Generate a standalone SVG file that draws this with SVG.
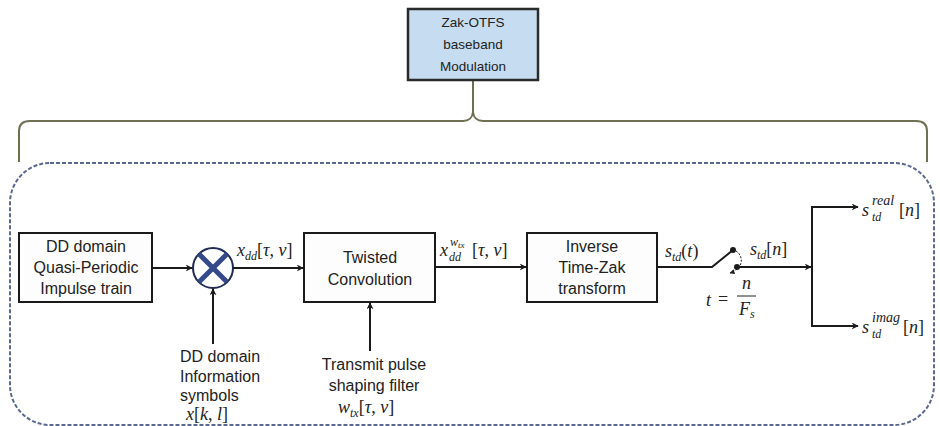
<svg xmlns="http://www.w3.org/2000/svg" width="940" height="426" viewBox="0 0 940 426">
<style>
.box{fill:#fdfdfd;stroke:#1a1a1a;stroke-width:2}
.lbl{font-family:"Liberation Sans",Arial,sans-serif;font-size:16px;fill:#222;text-anchor:middle}
.lbll{font-family:"Liberation Sans",Arial,sans-serif;font-size:16px;fill:#222}
.top{font-family:"Liberation Sans",Arial,sans-serif;font-size:13.5px;fill:#222;text-anchor:middle}
.m{font-family:"Liberation Serif","Times New Roman",serif;font-style:italic;font-size:18px;fill:#222}
.ms{font-size:12px}
.sup{font-size:14px}
.b{font-style:normal}
.wire{fill:none;stroke:#1a1a1a;stroke-width:2}
</style>
<defs>
<marker id="ah" viewBox="0 0 10 10" refX="9" refY="5" markerWidth="7" markerHeight="7" orient="auto" markerUnits="userSpaceOnUse">
<path d="M0,0 L10,5 L0,10 L3,5 z" fill="#1a1a1a"/>
</marker>
<marker id="ahs" viewBox="0 0 10 10" refX="9" refY="5" markerWidth="5" markerHeight="5" orient="auto" markerUnits="userSpaceOnUse">
<path d="M0,0 L10,5 L0,10 z" fill="#1a1a1a"/>
</marker>
</defs>

<g id="frame">
<rect x="10" y="163" width="924" height="262" rx="40" ry="40" fill="none" stroke="#5a6890" stroke-width="2" stroke-dasharray="4,2"/>
<path d="M19,162 L19,131 Q19,121 30,121 L463,121 Q472,121 473,112 Q474,121 483,121 L916,121 Q927,121 927,131 L927,162" fill="none" stroke="#6f6f52" stroke-width="2"/>
<line x1="473" y1="80" x2="473" y2="112" stroke="#6f6f52" stroke-width="2"/>
</g>

<g id="top-node">
<rect x="408" y="9" width="130" height="71" fill="#c6dcf0" stroke="#2a2a2a" stroke-width="2.5"/>
<text class="top" x="473" y="27">Zak-OTFS</text>
<text class="top" x="473" y="49">baseband</text>
<text class="top" x="473" y="71">Modulation</text>
</g>

<g id="impulse-train">
<rect class="box" x="19" y="233" width="133" height="69"/>
<text class="lbl" x="86" y="252">DD domain</text>
<text class="lbl" x="86" y="273">Quasi-Periodic</text>
<text class="lbl" x="86" y="294">Impulse train</text>
</g>

<g id="multiplier">
<circle cx="213" cy="268" r="20" fill="#fff" stroke="#1f2a55" stroke-width="2"/>
<path d="M199,254 L227,282 M227,254 L199,282" stroke="#34498a" stroke-width="5"/>
</g>

<g id="info-symbols">
<text class="lbll" x="180" y="362">DD domain</text>
<text class="lbll" x="180" y="382">Information</text>
<text class="lbll" x="180" y="401">symbols</text>
<text class="m" x="186" y="420">x<tspan class="b">[</tspan>k<tspan class="b">, </tspan>l<tspan class="b">]</tspan></text>
</g>

<g id="twisted-convolution">
<rect class="box" x="304" y="233" width="131" height="69"/>
<text class="lbl" x="370" y="263">Twisted</text>
<text class="lbl" x="370" y="285">Convolution</text>
</g>

<g id="pulse-filter">
<text class="lbl" x="374" y="370">Transmit pulse</text>
<text class="lbl" x="374" y="391">shaping filter</text>
<text class="m" x="338" y="413">w<tspan class="ms" dy="4">tx</tspan><tspan class="b" dy="-4">[</tspan>τ<tspan class="b">, </tspan>ν<tspan class="b">]</tspan></text>
</g>

<g id="inverse-zak">
<rect class="box" x="527" y="233" width="130" height="69"/>
<text class="lbl" x="592" y="252">Inverse</text>
<text class="lbl" x="592" y="273">Time-Zak</text>
<text class="lbl" x="592" y="294">transform</text>
</g>

<g id="sampler">
<circle cx="733" cy="250" r="3" fill="#1a1a1a"/>
<circle cx="737" cy="267" r="3" fill="#1a1a1a"/>
<path d="M736,251 C743,255 745,268 730,273" fill="none" stroke="#1a1a1a" stroke-width="1" stroke-dasharray="2,1.5" marker-end="url(#ahs)"/>
<text class="m" x="706" y="306">t</text>
<text class="m b" x="718" y="305">=</text>
<text class="m" x="742" y="289">n</text>
<line x1="737" y1="296" x2="756" y2="296" stroke="#222" stroke-width="1"/>
<text class="m" x="739" y="315">F<tspan class="ms" dy="3">s</tspan></text>
</g>

<g id="outputs">
<text class="m" x="862" y="216">s<tspan class="sup" x="872" y="205">real</tspan><tspan class="ms" x="872" y="221">td</tspan><tspan class="b" x="899" y="216">[</tspan>n<tspan class="b">]</tspan></text>
<text class="m" x="862" y="333">s<tspan class="sup" x="872" y="322">imag</tspan><tspan class="ms" x="872" y="338">td</tspan><tspan class="b" x="903" y="333">[</tspan>n<tspan class="b">]</tspan></text>
</g>

<g id="connectors">
<line class="wire" x1="152" y1="268" x2="192" y2="268" marker-end="url(#ah)"/>
<line class="wire" x1="213" y1="344" x2="213" y2="289" marker-end="url(#ah)"/>
<line class="wire" x1="233" y1="268" x2="303" y2="268" marker-end="url(#ah)"/>
<line class="wire" x1="370" y1="351" x2="370" y2="303" marker-end="url(#ah)"/>
<line class="wire" x1="435" y1="267" x2="526" y2="267" marker-end="url(#ah)"/>
<polyline class="wire" points="657,267 712,267 733,250"/>
<line class="wire" x1="737" y1="267" x2="811" y2="267" marker-end="url(#ah)"/>
<polyline class="wire" points="850,207 812,207 812,326 850,326"/>
<line class="wire" x1="840" y1="207" x2="858" y2="207" marker-end="url(#ah)"/>
<line class="wire" x1="840" y1="326" x2="858" y2="326" marker-end="url(#ah)"/>
<text class="m" x="237" y="256">x<tspan class="ms" dy="4">dd</tspan><tspan class="b" dy="-4">[</tspan>τ<tspan class="b">, </tspan>ν<tspan class="b">]</tspan></text>
<text class="m" x="440" y="256">x<tspan class="ms" x="449" y="261">dd</tspan><tspan class="ms" x="450" y="246">w</tspan><tspan style="font-size:9px" dy="2">tx</tspan><tspan class="b" x="472" y="256">[</tspan>τ<tspan class="b">, </tspan>ν<tspan class="b">]</tspan></text>
<text class="m" x="665" y="257">s<tspan class="ms" dy="4">td</tspan><tspan class="b" dy="-4">(</tspan>t<tspan class="b">)</tspan></text>
<text class="m" x="750" y="255">s<tspan class="ms" dy="4">td</tspan><tspan class="b" dy="-4">[</tspan>n<tspan class="b">]</tspan></text>
</g>
</svg>
